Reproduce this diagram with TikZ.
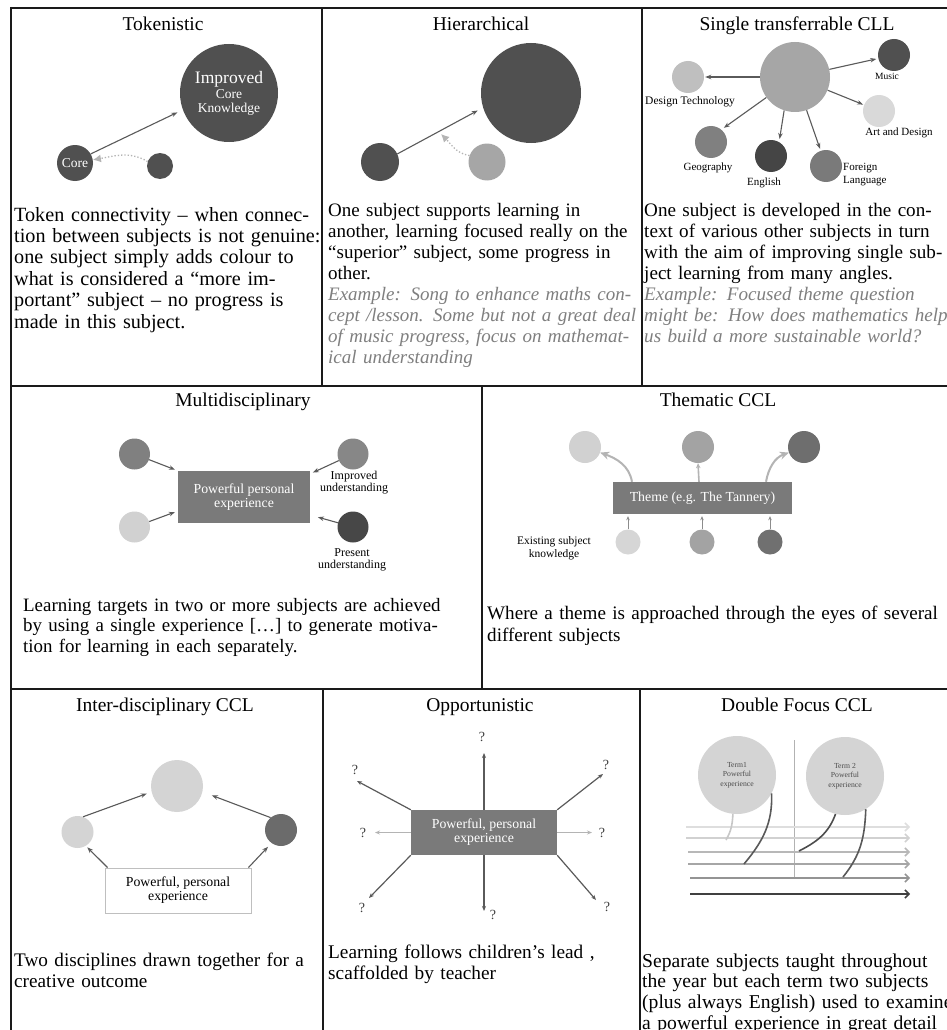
\documentclass[tikz,border=0pt]{standalone}
\usepackage{fontspec}
\setmainfont{Liberation Serif}
\usetikzlibrary{arrows.meta}
\definecolor{framec}{HTML}{1A1A1A}
\definecolor{dk}{HTML}{505050}
\definecolor{arrc}{HTML}{5A5A5A}
\definecolor{litc}{HTML}{B4B4B4}
\definecolor{itc}{HTML}{7F7F7F}
\definecolor{boxc}{HTML}{7A7A7A}
\begin{document}
\begin{tikzpicture}[x=1pt,y=1pt,
  hline/.style={draw=framec,line width=2.4pt},
  vline/.style={draw=framec,line width=2pt},
  ttl/.style={font=\fontsize{19.5}{20}\selectfont,anchor=base,inner sep=0pt},
  body/.style={anchor=base west,text width=620pt,align=left,inner sep=0pt},
  ball/.style={circle,inner sep=0pt,minimum size=#1},
  lab/.style={font=\fontsize{#1}{#1}\selectfont,inner sep=0pt,align=center},
  box/.style={rectangle,inner sep=0pt,align=center,font=\fontsize{13.8}{14}\selectfont},
  arr/.style={draw=arrc,line width=1.1pt,-{Stealth[length=6pt,width=4.5pt]}},
  dotarr/.style={draw=litc,line width=1.3pt,dotted,-{Latex[length=8pt,width=8pt]}},
  tharr/.style={draw=litc,line width=2pt,-{Stealth[length=9pt,width=8pt]}},
  thsm/.style={draw=litc,line width=1.6pt,-{Stealth[length=5pt,width=4.5pt]}},
  tbarr/.style={draw=black!45,line width=0.9pt,-{Stealth[length=4pt,width=3.5pt]}},
  oparr/.style={draw=arrc,line width=1.2pt,-{Stealth[length=5pt,width=4pt]}},
  oplit/.style={draw=litc,line width=1.2pt,-{Stealth[length=5pt,width=4pt]}},
  qm/.style={font=\fontsize{14}{14}\selectfont,inner sep=0pt,text=black!75},
  hz/.style={draw=#1,line width=1.5pt,-{Straight Barb[length=4pt,width=8pt]}},
  crv/.style={draw=#1,line width=1.6pt}
]
\useasboundingbox (0,0) rectangle (947,-1030);
\clip (0,0) rectangle (947,-1030);
\fill[white] (0,0) rectangle (947,-1030);

% ---------- frame ----------
\draw[hline] (10,-8) -- (960,-8);
\draw[vline] (11,-7) -- (11,-1040);
\draw[hline] (10,-386) -- (960,-386);
\draw[hline] (10,-689) -- (960,-689);
\draw[vline] (322,-8) -- (322,-386);
\draw[vline] (642,-8) -- (642,-386);
\draw[vline] (482,-386) -- (482,-689);
\draw[vline] (323,-689) -- (323,-1040);
\draw[vline] (640,-689) -- (640,-1040);

% ---------- titles ----------
\node[ttl] (t1) at (163,-31) {Tokenistic};
\node[ttl] (t2) at (481,-31) {Hierarchical};
\node[ttl] (t3) at (797,-31) {Single transferrable CLL};
\node[ttl] (t4) at (243,-406) {Multidisciplinary};
\node[ttl] (t5) at (718,-406) {Thematic CCL};
\node[ttl] (t6) at (165,-711) {Inter-disciplinary CCL};
\node[ttl] (t7) at (480,-711) {Opportunistic};
\node[ttl] (t8) at (797,-711) {Double Focus CCL};

% ---------- Tokenistic ----------
\node[ball=98pt,fill=dk,text=white,align=center,font=\fontsize{13.5}{13.5}\selectfont] (tkbig) at (229,-93)
  {{\fontsize{17.5}{17.5}\selectfont Improved}\\[2pt]Core\\Knowledge};
\node[ball=36pt,fill=dk,text=white,font=\fontsize{13.5}{13.5}\selectfont] (tkcore) at (75,-163) {Core};
\node[ball=26pt,fill=dk] (tksmall) at (160,-166) {};
\draw[arr,shorten >=6pt] (tkcore.30) -- (tkbig.200);
\draw[dotarr] (tksmall.160) to[out=150,in=10] (tkcore.10);

\node[body,font=\fontsize{20.2}{21.4}\selectfont] (b1) at (14,-221) {Token connectivity -- when connec-\\
tion between subjects is not genuine:\\
one subject simply adds colour to\\
what is considered a “more im-\\
portant” subject -- no progress is\\
made in this subject.};

% ---------- Hierarchical ----------
\node[ball=100pt,fill=dk] (hbig) at (531,-93) {};
\node[ball=38pt,fill=dk] (hl) at (380,-162) {};
\node[ball=37pt,fill=black!35] (hlight) at (487,-162) {};
\coordinate (hdt) at (441,-134);
\draw[arr,shorten >=6pt] (hl.25) -- (hbig.197);
\draw[dotarr] (hlight.160) to[out=170,in=-45] (hdt);

\node[body,font=\fontsize{19}{21.1}\selectfont] (b2) at (328,-216) {One subject supports learning in\\
another, learning focused really on the\\
“superior” subject, some progress in\\
other.\\
{\itshape\color{itc}Example: Song to enhance maths con-\\
cept /lesson. Some but not a great deal\\
of music progress, focus on mathemat-\\
ical understanding}};

% ---------- Single transferrable ----------
\node[ball=70pt,fill=black!35] (sc) at (795,-77) {};
\node[ball=32pt,fill=dk] (smus) at (894,-55) {};
\node[ball=32pt,fill=black!25] (sdt) at (688,-77) {};
\node[ball=32pt,fill=black!15] (sart) at (879,-111) {};
\node[ball=32pt,fill=black!50] (sgeo) at (711,-142) {};
\node[ball=32pt,fill=black!73] (seng) at (771,-156) {};
\node[ball=32pt,fill=black!52] (sfrn) at (826,-166) {};
\draw[arr,shorten >=2pt] (sc) -- (smus);
\draw[arr,shorten >=1pt] (sc) -- (sdt);
\draw[arr,shorten >=1pt] (sc) -- (sart);
\draw[arr,shorten >=3pt] (sc) -- (sgeo.50);
\draw[arr,shorten >=3pt] (sc.-108) -- (seng.60);
\draw[arr,shorten >=2pt] (sc) -- (sfrn);
\node[lab=9.5] (lmus) at (887,-76) {Music};
\node[lab=11.5] (ldt) at (690,-102) {Design Technology};
\node[lab=11] (lart) at (899,-133) {Art and Design};
\node[lab=11] (lgeo) at (708,-168) {Geography};
\node[lab=11] (leng) at (764,-183) {English};
\node[lab=11,align=left,anchor=west,font=\fontsize{11}{13}\selectfont] (lfrn) at (843,-175) {Foreign\\Language};

\node[body,font=\fontsize{19.1}{21.1}\selectfont] (b3) at (644,-216) {One subject is developed in the con-\\
text of various other subjects in turn\\
with the aim of improving single sub-\\
ject learning from many angles.\\
{\itshape\color{itc}Example: Focused theme question\\
might be: How does mathematics help\\
us build a more sustainable world?}};

% ---------- Multidisciplinary ----------
\node[box,fill=boxc,text=white,minimum width=132pt,minimum height=52pt] (mrect) at (244,-497) {Powerful personal\\experience};
\node[ball=31pt,fill=black!50] (mlt) at (134.5,-454) {};
\node[ball=31pt,fill=black!18] (mlb) at (134.5,-527) {};
\node[ball=31pt,fill=black!47] (mrt) at (353,-454) {};
\node[ball=31pt,fill=black!72] (mrb) at (353,-527) {};
\draw[arr,shorten >=3pt] (mlt) -- (mrect.north west);
\draw[arr,shorten >=3pt] (mlb) -- ([yshift=-14pt]mrect.west);
\draw[arr,shorten >=3pt] (mrt) -- ([yshift=-3pt]mrect.north east);
\draw[arr,shorten >=8pt] (mrb) -- ([yshift=-18pt]mrect.east);
\node[lab=12,font=\fontsize{12}{12}\selectfont] (lim) at (354,-483) {Improved\\understanding};
\node[lab=12,font=\fontsize{12}{12}\selectfont] (lpr) at (352,-560) {Present\\understanding};

\node[body,font=\fontsize{18.9}{20.7}\selectfont] (b4) at (23,-611) {Learning targets in two or more subjects are achieved\\
by using a single experience […] to generate motiva-\\
tion for learning in each separately.};

% ---------- Thematic ----------
\node[box,fill=boxc,text=white,minimum width=179pt,minimum height=32pt] (trect) at (702.5,-498) {Theme (e.g. The Tannery)};
\node[ball=32pt,fill=black!18] (tt1) at (585,-447) {};
\node[ball=32pt,fill=black!36] (tt2) at (698,-447) {};
\node[ball=32pt,fill=black!57] (tt3) at (804,-447) {};
\node[ball=25pt,fill=black!16] (tb1) at (628,-542) {};
\node[ball=25pt,fill=black!36] (tb2) at (702,-542) {};
\node[ball=25pt,fill=black!56] (tb3) at (770,-542) {};
\draw[tharr] ([xshift=-70.5pt]trect.north) to[out=100,in=-20] (tt1);
\draw[thsm] ([xshift=-3.5pt]trect.north) -- (tt2.south);
\draw[tharr] ([xshift=63.5pt]trect.north) to[out=80,in=200] (tt3);
\draw[tbarr,shorten >=2pt] (tb1) -- (tb1 |- trect.south);
\draw[tbarr,shorten >=2pt] (tb2) -- (tb2 |- trect.south);
\draw[tbarr,shorten >=2pt] (tb3) -- (tb3 |- trect.south);
\node[lab=11.5,font=\fontsize{11.5}{12.5}\selectfont] (lex) at (554,-548) {Existing subject\\knowledge};

\node[body,font=\fontsize{19.1}{22.3}\selectfont] (b5) at (487,-619) {Where a theme is approached through the eyes of several\\
different subjects};

% ---------- Inter-disciplinary ----------
\node[ball=52pt,fill=black!17] (itop) at (177,-786) {};
\node[ball=32pt,fill=black!17] (il) at (77.5,-832) {};
\node[ball=32pt,fill=black!58] (ir) at (281,-830) {};
\node[box,fill=white,draw=black!25,line width=0.8pt,minimum width=146pt,minimum height=45pt] (irect) at (178,-890.5) {Powerful, personal\\experience};
\draw[arr,shorten >=5pt] (il.70) -- (itop.193);
\draw[arr,shorten >=10pt] (ir.130) -- (itop.-13);
\draw[arr,shorten >=2pt] ([xshift=3pt]irect.north west) -- (il.-59);
\draw[arr,shorten >=5pt] ([xshift=-3pt]irect.north east) -- (ir.-126);

\node[body,font=\fontsize{19.2}{21.5}\selectfont] (b6) at (14,-966) {Two disciplines drawn together for a\\
creative outcome};

% ---------- Opportunistic ----------
\node[box,fill=boxc,text=white,minimum width=146pt,minimum height=45pt] (orect) at (484,-832.5) {Powerful, personal\\experience};
\coordinate (o1) at (484,-753);
\coordinate (o2) at (357,-781);
\coordinate (o3) at (603,-774);
\coordinate (o4) at (375,-832.5);
\coordinate (o5) at (592,-832.5);
\coordinate (o6) at (369,-898);
\coordinate (o7) at (484,-911);
\coordinate (o8) at (596,-900);
\draw[oparr] (orect.north) -- (o1);
\draw[oparr] (orect.north west) -- (o2);
\draw[oparr] (orect.north east) -- (o3);
\draw[oplit] (orect.west) -- (o4);
\draw[oplit] (orect.east) -- (o5);
\draw[oparr] (orect.south west) -- (o6);
\draw[oparr] (orect.south) -- (o7);
\draw[oparr] (orect.south east) -- (o8);
\node[qm] (q1) at (482,-737) {?};
\node[qm] (q2) at (355,-770) {?};
\node[qm] (q3) at (606,-765) {?};
\node[qm] (q4) at (363,-833) {?};
\node[qm] (q5) at (602,-833) {?};
\node[qm] (q6) at (362,-908) {?};
\node[qm] (q7) at (493,-915) {?};
\node[qm] (q8) at (607,-907) {?};

\node[body,font=\fontsize{19.3}{21}\selectfont] (b7) at (328,-958) {Learning follows children’s lead ,\\
scaffolded by teacher};

% ---------- Double Focus ----------
\node[ball=78pt,fill=black!17,align=center,font=\fontsize{7.7}{9.5}\selectfont,text=black!70] (df1) at (737,-775) {Term1\\Powerful\\experience};
\node[ball=78pt,fill=black!17,align=center,font=\fontsize{7.7}{9.5}\selectfont,text=black!70] (df2) at (845,-776) {Term 2\\Powerful\\experience};
\draw[draw=black!30,line width=0.8pt] (794,-740) -- (794,-879);
\draw[hz=black!13] (686,-827) -- (910,-827);
\draw[hz=black!18] (686,-838) -- (910,-838);
\draw[hz=black!28] (688,-852) -- (910,-852);
\draw[hz=black!35] (688,-864) -- (910,-864);
\draw[hz=black!42] (690,-878) -- (910,-878);
\draw[hz=black!75] (690,-894) -- (910,-894);
\coordinate (dc1) at (726,-840);
\coordinate (dc2) at (744,-864);
\coordinate (dc3) at (799,-851);
\coordinate (dc4) at (843,-877);
\draw[crv=black!22] (df1.-96) to[out=-93,in=60] (dc1);
\draw[crv=black!65] (df1.-28) to[out=-88,in=50] (dc2);
\draw[crv=black!70] (df2.-104) to[out=-110,in=27] (dc3);
\draw[crv=black!65] (df2.-58) to[out=-92,in=51] (dc4);

\node[body,font=\fontsize{19.6}{20.7}\selectfont] (b8) at (642,-967) {Separate subjects taught throughout\\
the year but each term two subjects\\
(plus always English) used to examine\\
a powerful experience in great detail};
\end{tikzpicture}
\end{document}
